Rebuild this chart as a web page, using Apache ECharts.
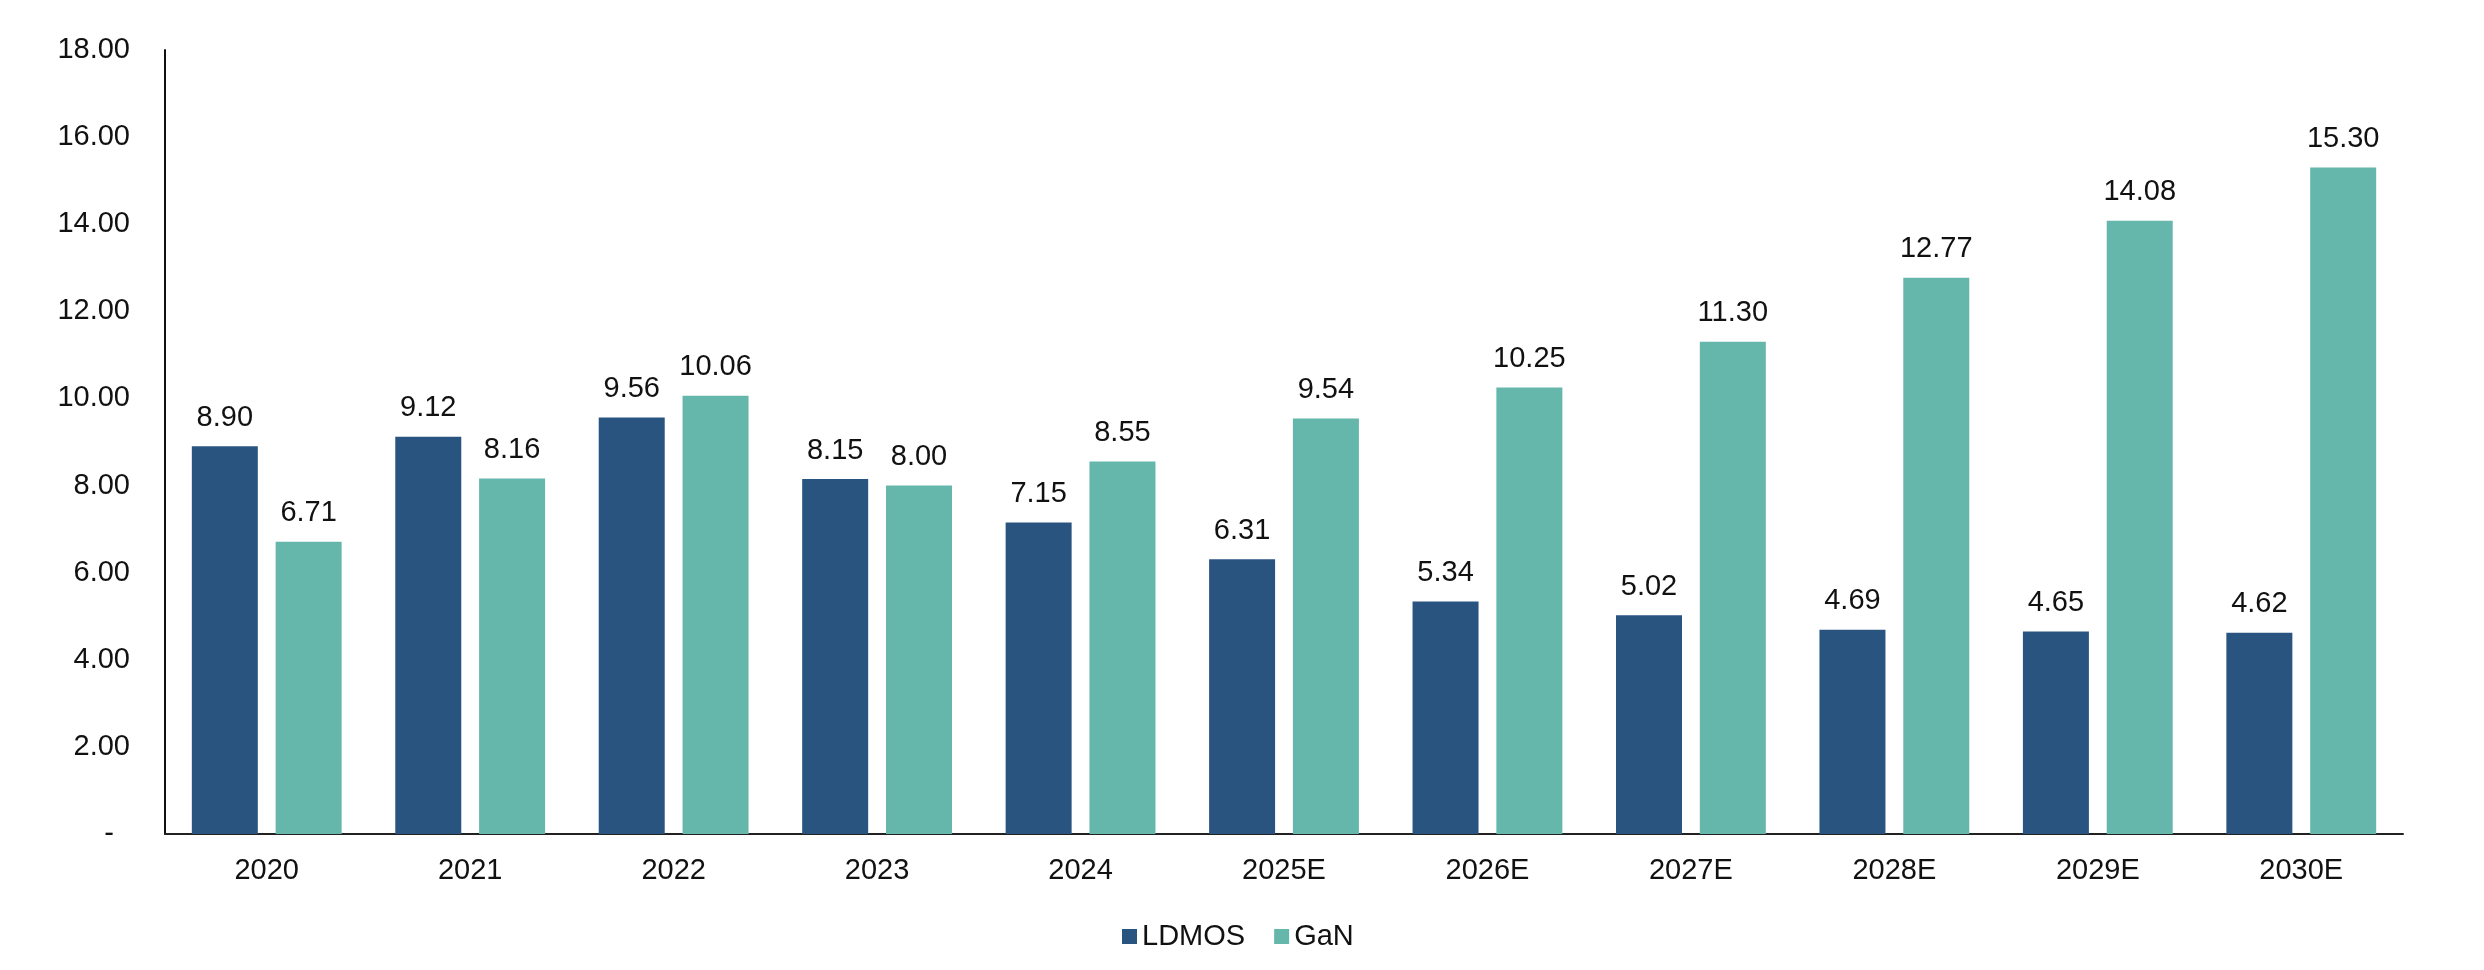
<!DOCTYPE html>
<html>
<head>
<meta charset="utf-8">
<script src="https://cdn.jsdelivr.net/npm/echarts@6/dist/echarts.min.js"></script>
<style>
html,body{margin:0;padding:0;background:#fff;}
#chart{width:2484px;height:970px;}
</style>
</head>
<body>
<div id="chart"></div>
<script>
const categories = ['2020','2021','2022','2023','2024','2025E','2026E','2027E','2028E','2029E','2030E'];
const ldmos = [8.90, 9.12, 9.56, 8.15, 7.15, 6.31, 5.34, 5.02, 4.69, 4.65, 4.62];
const gan = [6.71, 8.16, 10.06, 8.00, 8.55, 9.54, 10.25, 11.30, 12.77, 14.08, 15.30];
const seriesNames = ['LDMOS', 'GaN'];

const FONT = 'Liberation Sans, Arial, sans-serif';
const FS = 29;
const chart = echarts.init(document.getElementById('chart'));
const labelCfg = {
  show: true, position: 'top', distance: 14,
  color: '#111', fontSize: FS, fontFamily: FONT,
  formatter: p => p.value.toFixed(2)
};
chart.setOption({
  animation: false,
  backgroundColor: '#fff',
  textStyle: { fontFamily: FONT },
  legend: {
    data: seriesNames,
    left: 1117, top: 917,
    itemWidth: 15, itemHeight: 15, itemGap: 29,
    icon: 'rect',
    textStyle: { fontSize: FS, color: '#111', fontFamily: FONT }
  },
  grid: { left: 165, right: 81, top: 50, bottom: 136, containLabel: false },
  xAxis: {
    type: 'category', data: categories,
    axisLine: { lineStyle: { color: '#222', width: 2 } },
    axisTick: { show: false },
    axisLabel: { fontSize: FS, color: '#111', fontFamily: FONT, margin: 22 }
  },
  yAxis: {
    type: 'value', min: 0, max: 18, interval: 2,
    axisLine: { show: true, lineStyle: { color: '#111', width: 2 } },
    axisTick: { show: false },
    splitLine: { show: false },
    axisLabel: {
      fontSize: FS, color: '#111', fontFamily: FONT, margin: 35,
      formatter: v => v === 0 ? '-  ' : v.toFixed(2)
    }
  },
  series: [
    { name: seriesNames[0], type: 'bar', data: ldmos, barWidth: 66, barGap: '27%',
      itemStyle: { color: '#2A5480' }, label: labelCfg },
    { name: seriesNames[1], type: 'bar', data: gan, barWidth: 66,
      itemStyle: { color: '#66B7AB' }, label: labelCfg }
  ]
});
</script>
</body>
</html>
